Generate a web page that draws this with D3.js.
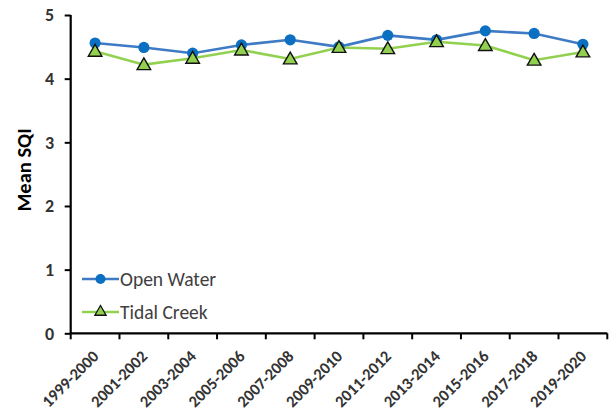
<!DOCTYPE html>
<html><head><meta charset="utf-8">
<script src="https://cdn.jsdelivr.net/npm/d3@7"></script>
<style>body{margin:0;background:#fff}svg{display:block}</style>
</head><body>
<svg id="c" width="614" height="411"></svg>
<script>
const categories = ["1999-2000","2001-2002","2003-2004","2005-2006","2007-2008","2009-2010","2011-2012","2013-2014","2015-2016","2017-2018","2019-2020"];
const openWater = [4.56,4.49,4.40,4.53,4.61,4.50,4.68,4.61,4.75,4.71,4.54];
const tidalCreek = [4.43,4.22,4.32,4.45,4.31,4.49,4.47,4.58,4.52,4.29,4.42];
const yTicks = [0,1,2,3,4,5];
const seriesNames = ["Open Water","Tidal Creek"];

(function(){
const svg = d3.select("#c");
const mL = 70.7, mR = 607.3, mT = 15, mB = 333.3;
const x = d3.scaleBand().domain(categories).range([mL, mR]).padding(0);
const y = d3.scaleLinear().domain([0,5]).range([mB, mT]);
const font = "Carlito, 'Open Sans', 'Liberation Sans', sans-serif";
const txt = "#333";

// Y axis
const ya = svg.append("g").attr("transform",`translate(${mL},0)`)
  .call(d3.axisLeft(y).tickValues(yTicks).tickSize(6).tickPadding(10.5).tickFormat(d3.format("d")));
ya.select(".domain").attr("stroke","#000").attr("stroke-width",2.2).attr("d",`M0,${mT}V${mB}`);
ya.selectAll(".tick line").attr("stroke","#000").attr("stroke-width",2);
ya.selectAll(".tick text").attr("font-family",font).attr("font-size",18).attr("font-weight","bold").attr("fill",txt);

// X axis
const xa = svg.append("g").attr("transform",`translate(0,${mB})`)
  .call(d3.axisBottom(x).tickSize(0).tickFormat(""));
xa.select(".domain").attr("stroke","#000").attr("stroke-width",2.2).attr("d",`M${mL},0H${mR}`);
xa.selectAll(".tick").remove();
const bounds = categories.map(c => x(c)).concat([mR]);
xa.selectAll("line.bt").data(bounds).enter().append("line")
  .attr("x1",d=>d).attr("x2",d=>d).attr("y1",0).attr("y2",6)
  .attr("stroke","#000").attr("stroke-width",2);
xa.selectAll("text.xl").data(categories).enter().append("text")
  .attr("transform",d=>`translate(${x(d)+x.bandwidth()/2+4.5},${24}) rotate(-45)`)
  .attr("text-anchor","end")
  .attr("font-family",font).attr("font-size",16.5).attr("font-weight","bold").attr("fill",txt)
  .text(d=>d);

// Y label
svg.append("text").attr("transform",`translate(31,${170}) rotate(-90)`)
  .attr("text-anchor","middle").attr("font-family",font).attr("font-size",20.5).attr("font-weight","bold")
  .attr("fill","#000").text("Mean SQI");

const cx = d => x(d)+x.bandwidth()/2;
const blueLine = "#3E7BC4", blueFill = "#0B6FC2", green = "#92D050";
const line = d3.line().x((d,i)=>cx(categories[i])).y(d=>y(d));

svg.append("path").datum(openWater).attr("d",line).attr("fill","none").attr("stroke",blueLine).attr("stroke-width",2.6);
svg.append("path").datum(tidalCreek).attr("d",line).attr("fill","none").attr("stroke",green).attr("stroke-width",2.6);

svg.selectAll("circle.ow").data(openWater).enter().append("circle")
  .attr("cx",(d,i)=>cx(categories[i])).attr("cy",d=>y(d)).attr("r",5.6).attr("fill",blueFill);

const tri = d3.symbol().type(d3.symbolTriangle).size(80);
svg.selectAll("path.tc").data(tidalCreek).enter().append("path")
  .attr("d",tri).attr("transform",(d,i)=>`translate(${cx(categories[i])},${y(d)+1})`)
  .attr("fill",green).attr("stroke","#111").attr("stroke-width",1.4);

// Legend
const lg = svg.append("g");
const ly = [279, 312];
lg.append("line").attr("x1",82).attr("x2",119).attr("y1",ly[0]).attr("y2",ly[0]).attr("stroke",blueLine).attr("stroke-width",2.6);
lg.append("circle").attr("cx",100.5).attr("cy",ly[0]).attr("r",5).attr("fill",blueFill);
lg.append("line").attr("x1",82).attr("x2",119).attr("y1",ly[1]).attr("y2",ly[1]).attr("stroke",green).attr("stroke-width",2.6);
lg.append("path").attr("d",d3.symbol().type(d3.symbolTriangle).size(55)).attr("transform",`translate(100.5,${ly[1]})`)
  .attr("fill",green).attr("stroke","#111").attr("stroke-width",1.3);
lg.selectAll("text").data(seriesNames).enter().append("text")
  .attr("x",120).attr("y",(d,i)=>ly[i]+7)
  .attr("font-family",font).attr("font-size",19.5).attr("fill","#404040").text(d=>d);
})();
</script>
</body></html>
